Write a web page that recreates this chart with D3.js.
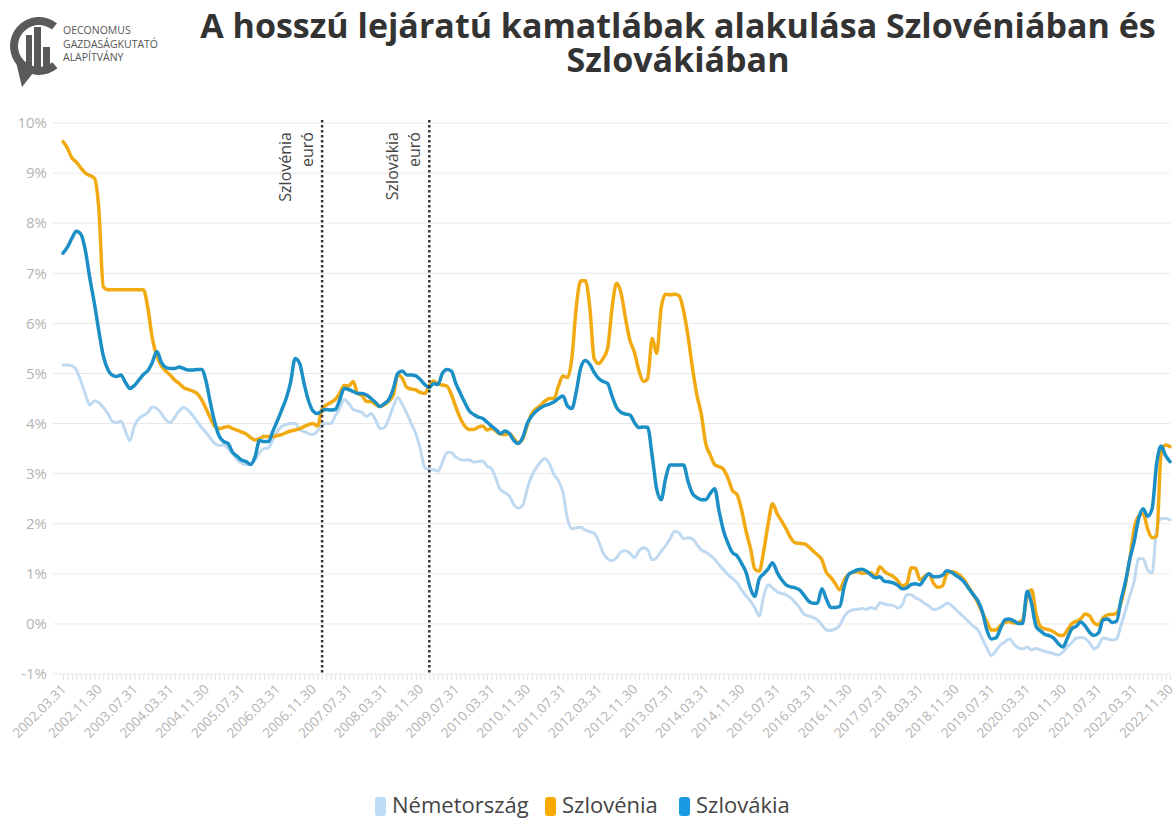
<!DOCTYPE html>
<html>
<head>
<meta charset="utf-8">
<script src="https://cdn.jsdelivr.net/npm/d3@7"></script>
<style>
  body { margin: 0; background: #fff; }
  svg { display: block; }
</style>
</head>
<body>
<div id="chart"></div>
<script>
// havi adatok 2002.03 - 2022.11 (hónap végi értékek, %)
const firstMonth = "2002-03";
const lastMonth = "2022-11";

const seriesNames = ["Németország", "Szlovénia", "Szlovákia"];
const seriesColors = ["#bfd9f1", "#f2aa12", "#1b8fc6"];
const legendColors = ["#bddcf6", "#f8aa00", "#1a9ae0"];

const nemetorszag = [
  5.17, 5.17, 5.15, 5.07, 4.85, 4.58, 4.37, 4.45, 4.42, 4.32,
  4.2, 4.05, 4.02, 4.05, 3.85, 3.66, 3.95, 4.1, 4.16, 4.22,
  4.33, 4.3, 4.2, 4.08, 4.02, 4.12, 4.25, 4.32, 4.27, 4.16,
  4.05, 3.92, 3.82, 3.7, 3.6, 3.56, 3.57, 3.5, 3.4, 3.28,
  3.21, 3.18, 3.2, 3.27, 3.42, 3.5, 3.51, 3.68, 3.85, 3.94,
  3.98, 4.0, 4.0, 3.88, 3.84, 3.8, 3.78, 3.85, 3.97, 4.0,
  4.0, 4.15, 4.3, 4.48, 4.4, 4.28, 4.25, 4.22, 4.14, 4.2,
  4.07, 3.9, 3.92, 4.1, 4.34, 4.52, 4.38, 4.2, 4.0, 3.8,
  3.5, 3.12, 3.08, 3.08, 3.05, 3.22, 3.42, 3.42, 3.33, 3.28,
  3.27, 3.27, 3.23, 3.24, 3.25, 3.15, 3.1, 2.9, 2.68, 2.62,
  2.55, 2.38, 2.31, 2.37, 2.7, 2.96, 3.12, 3.23, 3.3, 3.2,
  2.98, 2.86, 2.63, 2.1, 1.9, 1.92, 1.93, 1.87, 1.84, 1.81,
  1.65, 1.42, 1.3, 1.26, 1.32, 1.44, 1.46, 1.41, 1.32, 1.46,
  1.52, 1.48, 1.28, 1.32, 1.45, 1.56, 1.7, 1.85, 1.82, 1.7,
  1.72, 1.7, 1.58, 1.48, 1.43, 1.37, 1.29, 1.18, 1.08, 0.98,
  0.91, 0.82, 0.68, 0.56, 0.45, 0.33, 0.16, 0.55, 0.78, 0.72,
  0.64, 0.61, 0.58, 0.52, 0.43, 0.32, 0.19, 0.16, 0.13, 0.08,
  -0.02, -0.12, -0.13, -0.1, -0.03, 0.15, 0.25, 0.28, 0.29, 0.31,
  0.29, 0.33, 0.3, 0.42, 0.4, 0.38, 0.37, 0.32, 0.38, 0.58,
  0.58, 0.52, 0.48, 0.41, 0.36, 0.29, 0.3, 0.35, 0.41, 0.37,
  0.29, 0.2, 0.12, 0.04, -0.05, -0.12, -0.3, -0.48, -0.63, -0.54,
  -0.42, -0.36, -0.3, -0.4, -0.48, -0.5, -0.46, -0.52, -0.49, -0.52,
  -0.55, -0.57, -0.6, -0.62, -0.56, -0.45, -0.37, -0.28, -0.27, -0.29,
  -0.38, -0.5, -0.43, -0.28, -0.3, -0.32, -0.3, -0.02, 0.27, 0.55,
  0.85, 1.3, 1.3, 1.08, 1.02, 1.9, 2.1, 2.11, 2.08
];

const szlovenia = [
  9.63, 9.5, 9.3, 9.22, 9.1, 9.0, 8.95, 8.9, 8.3, 6.73,
  6.67, 6.67, 6.67, 6.67, 6.67, 6.67, 6.67, 6.67, 6.67, 6.3,
  5.7, 5.35, 5.15, 5.05, 4.97, 4.87, 4.8, 4.72, 4.68, 4.65,
  4.6, 4.48, 4.3, 4.1, 3.94, 3.9, 3.92, 3.94, 3.9, 3.87,
  3.83, 3.79, 3.72, 3.67, 3.7, 3.74, 3.74, 3.74, 3.76, 3.78,
  3.82, 3.85, 3.87, 3.9, 3.94, 3.98, 4.0, 3.95, 4.3, 4.37,
  4.42, 4.48, 4.6, 4.76, 4.75, 4.84, 4.6, 4.56, 4.44, 4.44,
  4.38, 4.34, 4.38, 4.45, 4.57, 4.98, 4.9, 4.72, 4.69, 4.67,
  4.62, 4.6, 4.75, 4.85, 4.79, 4.77, 4.75, 4.58, 4.33, 4.1,
  3.95, 3.88, 3.88, 3.93, 3.95, 3.87, 3.9, 3.85, 3.79, 3.78,
  3.8, 3.7, 3.62, 3.7, 3.97, 4.2, 4.3, 4.36, 4.45, 4.5,
  4.5, 4.74, 4.95, 4.92, 5.3, 6.35, 6.85, 6.85, 6.3, 5.3,
  5.2, 5.3, 5.5, 6.3, 6.8, 6.6, 6.1, 5.65, 5.42, 5.05,
  4.84, 4.9, 5.7, 5.4, 6.3, 6.58, 6.57, 6.58, 6.55, 6.25,
  5.75, 5.1, 4.55, 4.2, 3.6, 3.38, 3.18, 3.14, 3.08, 2.9,
  2.66, 2.58, 2.28, 1.85, 1.5, 1.1, 1.05, 1.45, 2.0, 2.4,
  2.2, 2.05, 1.9, 1.72, 1.62, 1.61, 1.6, 1.55, 1.46, 1.38,
  1.28, 1.03, 0.93, 0.8, 0.68, 0.88, 0.99, 1.03, 1.04, 1.01,
  1.02, 1.02, 0.94, 1.14, 1.05, 0.99, 0.95, 0.86, 0.76, 0.8,
  1.12, 1.11, 0.88, 0.94, 1.0, 0.82, 0.73, 0.76, 1.0, 1.04,
  1.02, 0.96, 0.86, 0.72, 0.58, 0.42, 0.22, 0.04, -0.12, -0.12,
  -0.04, 0.03, 0.05, 0.02, 0.03, 0.08, 0.55, 0.68, 0.2, -0.05,
  -0.1, -0.12, -0.16, -0.22, -0.23, -0.12, 0.01, 0.05, 0.1, 0.2,
  0.16, 0.02, -0.02, 0.12, 0.18, 0.19, 0.21, 0.42, 0.82, 1.28,
  1.9, 2.15, 2.2, 1.9, 1.72, 1.75, 3.4, 3.57, 3.54
];

const szlovakia = [
  7.4, 7.52, 7.7, 7.84, 7.78, 7.45, 6.9, 6.4, 5.85, 5.35,
  5.08, 4.97, 4.94, 4.97, 4.82, 4.7, 4.76, 4.87, 4.98, 5.06,
  5.22, 5.44, 5.22, 5.12, 5.1, 5.1, 5.13, 5.1, 5.07, 5.07,
  5.08, 5.08, 4.85, 4.4, 4.0, 3.75, 3.64, 3.6, 3.42, 3.35,
  3.27, 3.24, 3.18, 3.34, 3.66, 3.64, 3.64, 3.84, 4.05, 4.27,
  4.5, 4.82, 5.3, 5.2, 4.8, 4.45, 4.25, 4.2, 4.26, 4.28,
  4.27, 4.28, 4.47, 4.7, 4.68, 4.64, 4.6, 4.6, 4.57, 4.5,
  4.42, 4.34, 4.4, 4.48, 4.7, 5.0, 5.05, 4.97, 4.97, 4.95,
  4.88, 4.78, 4.72, 4.8, 4.78, 5.0, 5.08, 5.05, 4.8, 4.6,
  4.42, 4.25, 4.18, 4.13, 4.1, 4.03, 3.95, 3.88, 3.8, 3.85,
  3.8, 3.66, 3.6, 3.73, 4.0, 4.15, 4.25, 4.31, 4.36, 4.39,
  4.43, 4.5, 4.55, 4.35, 4.3, 4.65, 5.12, 5.26, 5.18, 5.02,
  4.9, 4.84, 4.8, 4.55, 4.32, 4.22, 4.19, 4.17, 4.02, 3.92,
  3.93, 3.92, 3.35, 2.7, 2.48, 2.9, 3.17, 3.17, 3.17, 3.17,
  2.85, 2.6, 2.52, 2.48, 2.48, 2.6, 2.7, 2.25, 1.85, 1.6,
  1.42, 1.36, 1.21, 1.03, 0.7, 0.55, 0.9, 1.0, 1.1, 1.22,
  1.03, 0.88, 0.78, 0.74, 0.72, 0.68, 0.57, 0.46, 0.41, 0.41,
  0.7, 0.5, 0.33, 0.33, 0.35, 0.75, 0.99, 1.04, 1.08, 1.09,
  1.05, 0.98, 0.92, 0.94, 0.85, 0.84, 0.82, 0.77, 0.7, 0.72,
  0.79, 0.8, 0.78, 0.9, 1.0, 0.94, 0.94, 0.97, 1.06, 1.03,
  0.97, 0.91, 0.82, 0.7, 0.58, 0.46, 0.24, -0.12, -0.3, -0.28,
  -0.1, 0.08, 0.1, 0.06, 0.01, 0.01, 0.65, 0.4, -0.05, -0.14,
  -0.21, -0.24, -0.29, -0.4, -0.46, -0.28, -0.09, -0.05, 0.04, -0.04,
  -0.17, -0.23, -0.18, 0.08, 0.1, 0.03, 0.05, 0.48, 0.85, 1.28,
  1.65, 2.1, 2.3, 2.15, 2.3, 3.2, 3.55, 3.36, 3.24
];

const xTickLabels = [
  "2002.03.31", "2002.11.30", "2003.07.31", "2004.03.31", "2004.11.30",
  "2005.07.31", "2006.03.31", "2006.11.30", "2007.07.31", "2008.03.31",
  "2008.11.30", "2009.07.31", "2010.03.31", "2010.11.30", "2011.07.31",
  "2012.03.31", "2012.11.30", "2013.07.31", "2014.03.31", "2014.11.30",
  "2015.07.31", "2016.03.31", "2016.11.30", "2017.07.31", "2018.03.31",
  "2018.11.30", "2019.07.31", "2020.03.31", "2020.11.30", "2021.07.31",
  "2022.03.31", "2022.11.30"
];
const yTicks = [-1, 0, 1, 2, 3, 4, 5, 6, 7, 8, 9, 10];

const euroDates = ["2007.01.31", "2009.01.31"];
const euroLabels = [["Szlovénia", "euró"], ["Szlovákia", "euró"]];

const title = ["A hosszú lejáratú kamatlábak alakulása Szlovéniában és", "Szlovákiában"];
const logoText = ["OECONOMUS", "GAZDASÁGKUTATÓ", "ALAPÍTVÁNY"];

const width = 1175;
const height = 821;
const margin = { top: 123, right: 5, bottom: 147, left: 63 };

const parseMonth = d3.utcParse("%Y-%m");
const parseDay = d3.utcParse("%Y.%m.%d");
const monthEnd = (m) => d3.utcDay.offset(d3.utcMonth.offset(m, 1), -1);

const months = d3.utcMonth
  .range(parseMonth(firstMonth), d3.utcMonth.offset(parseMonth(lastMonth), 1))
  .map(monthEnd);

const series = [nemetorszag, szlovenia, szlovakia].map((vals, k) => ({
  name: seriesNames[k],
  color: seriesColors[k],
  values: vals.map((v, i) => ({ date: months[i], value: v })),
}));

const svg = d3
  .select("#chart")
  .append("svg")
  .attr("width", width)
  .attr("height", height)
  .style("font-family", "'Open Sans', sans-serif");

svg.append("rect").attr("width", width).attr("height", height).attr("fill", "#fff");

const x = d3
  .scaleUtc()
  .domain(d3.extent(months))
  .range([margin.left, width - margin.right]);

const y = d3
  .scaleLinear()
  .domain([-1, 10])
  .range([height - margin.bottom, margin.top]);

// rácsvonalak
svg
  .append("g")
  .selectAll("line")
  .data(yTicks)
  .join("line")
  .attr("x1", margin.left - 10)
  .attr("x2", width - margin.right)
  .attr("y1", (d) => y(d))
  .attr("y2", (d) => y(d))
  .attr("stroke", "#e9e9e9")
  .attr("stroke-width", 1);

// y tengely feliratok
svg
  .append("g")
  .selectAll("text")
  .data(yTicks)
  .join("text")
  .attr("x", margin.left - 16)
  .attr("y", (d) => y(d))
  .attr("dy", "0.35em")
  .attr("text-anchor", "end")
  .style("font-size", "15px")
  .style("fill", "#b4b4b4")
  .text((d) => d + "%");

// x tengely: havi kis jelölők
const xAxis = svg
  .append("g")
  .attr("transform", `translate(0,${y(-1)})`)
  .call(d3.axisBottom(x).tickValues(months).tickSize(6).tickFormat(""));
xAxis.select(".domain").remove();
xAxis.selectAll(".tick line").attr("stroke", "#e2e2e2");

const labelDates = xTickLabels.map(parseDay);
svg
  .append("g")
  .selectAll("text")
  .data(labelDates)
  .join("text")
  .attr("transform", (d) => `translate(${x(d) + 4},${y(-1) + 16}) rotate(-45)`)
  .attr("text-anchor", "end")
  .style("font-size", "13.5px")
  .style("fill", "#b4b4b4")
  .text((d, i) => xTickLabels[i]);

// vonalak
const line = d3
  .line()
  .curve(d3.curveMonotoneX)
  .x((d) => x(d.date))
  .y((d) => y(d.value));

svg
  .append("g")
  .selectAll("path")
  .data(series)
  .join("path")
  .attr("d", (d) => line(d.values))
  .attr("fill", "none")
  .attr("stroke", (d) => d.color)
  .attr("stroke-width", (d, i) => (i === 0 ? 3 : 3.5))
  .attr("stroke-linejoin", "round")
  .attr("stroke-linecap", "round");

// euró bevezetése
const euro = svg
  .append("g")
  .selectAll("g")
  .data(euroDates.map(parseDay))
  .join("g");

euro
  .append("line")
  .attr("x1", (d) => x(d))
  .attr("x2", (d) => x(d))
  .attr("y1", margin.top - 3)
  .attr("y2", y(-1))
  .attr("stroke", "#333")
  .attr("stroke-width", 2.5)
  .attr("stroke-dasharray", "2.5,2.5");

euro.each(function (d, i) {
  const g = d3.select(this);
  euroLabels[i].forEach((t, j) => {
    g.append("text")
      .attr("transform", `translate(${x(d) - 31 + j * 22},${margin.top + 9}) rotate(-90)`)
      .attr("text-anchor", "end")
      .style("font-size", "16px")
      .style("fill", "#444")
      .text(t);
  });
});

// cím
svg
  .append("g")
  .selectAll("text")
  .data(title)
  .join("text")
  .attr("x", 678)
  .attr("y", (d, i) => 38 + i * 34)
  .attr("text-anchor", "middle")
  .style("font-weight", "bold")
  .style("font-size", "34px")
  .style("fill", "#333")
  .text((d) => d);

// logó
const logo = svg.append("g").attr("fill", "#5a5a5a");
logo
  .append("path")
  .attr("d", d3.arc()({ innerRadius: 21, outerRadius: 29, startAngle: 2.45, endAngle: 6.95 }))
  .attr("transform", "translate(39,46)");
logo.append("path").attr("d", "M16,62 L33,73 L22,87 Z");
logo.append("rect").attr("x", 26).attr("y", 35).attr("width", 6).attr("height", 38);
logo.append("rect").attr("x", 34).attr("y", 27).attr("width", 7).attr("height", 46);
logo.append("rect").attr("x", 43).attr("y", 47).attr("width", 7).attr("height", 26);
logo
  .append("g")
  .selectAll("text")
  .data(logoText)
  .join("text")
  .attr("x", 63)
  .attr("y", (d, i) => 34 + i * 13.5)
  .style("font-size", "10.5px")
  .style("fill", "#555")
  .text((d) => d);

// jelmagyarázat
const legendX = [375, 545, 679];
const legend = svg
  .append("g")
  .selectAll("g")
  .data(series)
  .join("g")
  .attr("transform", (d, i) => `translate(${legendX[i]},797)`);
legend
  .append("rect")
  .attr("width", 11)
  .attr("height", 19)
  .attr("rx", 3)
  .attr("fill", (d, i) => legendColors[i]);
legend
  .append("text")
  .attr("x", 17)
  .attr("y", 16)
  .style("font-size", "22px")
  .style("fill", "#444")
  .text((d) => d.name);
</script>
</body>
</html>
